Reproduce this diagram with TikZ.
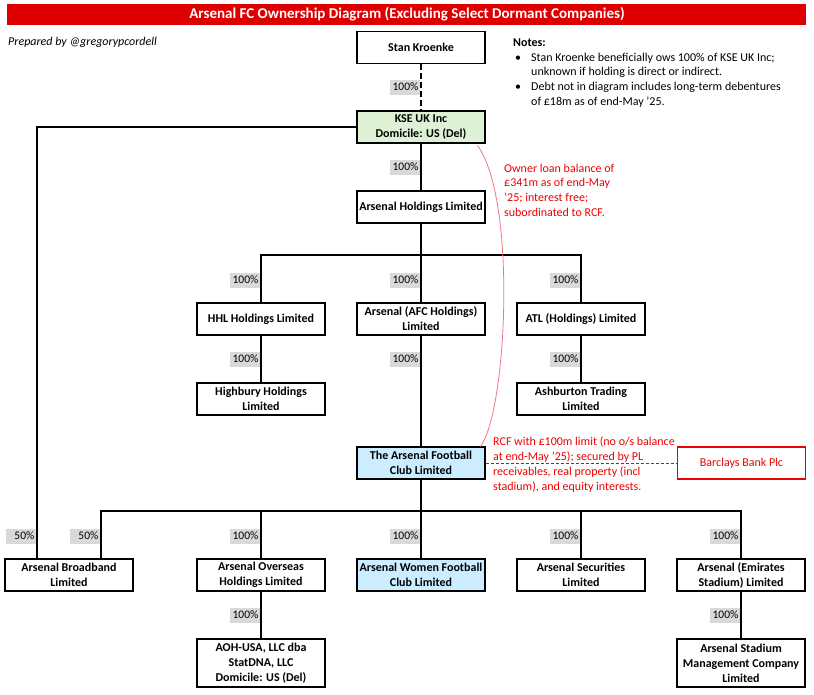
\documentclass[tikz,border=0pt]{standalone}
\usepackage{fontspec}
\setmainfont{Carlito}

\definecolor{titlered}{RGB}{222,0,0}
\definecolor{kgreen}{RGB}{221,241,212}
\definecolor{clubblue}{RGB}{204,236,255}
\definecolor{pctgray}{RGB}{217,217,217}
\definecolor{notered}{RGB}{238,0,0}
\definecolor{loanred}{RGB}{240,120,130}

\tikzset{
  entity/.style={draw, line width=1.1pt, minimum width=128pt, minimum height=32pt,
    inner sep=1pt, align=center, font=\bfseries\fontsize{12}{15}\selectfont},
  tallentity/.style={entity, minimum height=48pt},
  pct/.style={fill=pctgray, anchor=east, text width=27pt, align=right, inner xsep=1.5pt,
    minimum height=15pt, inner ysep=0pt, font=\fontsize{11.5}{13}\selectfont},
  link/.style={line width=1.3pt},
  redtext/.style={text=notered, align=left, inner sep=0pt, anchor=north west,
    font=\fontsize{12}{14.7}\selectfont}
}

\begin{document}
\begin{tikzpicture}[x=1pt,y=-1pt]
  \path[fill=white, use as bounding box] (0,0) rectangle (814,694);
  % Title bar
  \fill[titlered] (7,4) rectangle (806,25);
  \node[text=white, font=\bfseries\fontsize{15}{16}\selectfont] (title) at (407,14.5)
    {Arsenal FC Ownership Diagram (Excluding Select Dormant Companies)};
  \node[anchor=base west, inner sep=0pt, font=\itshape\fontsize{12}{12}\selectfont] (prep) at (8,45)
    {Prepared by @gregorypcordell};

  % Notes
  \node[anchor=north west, align=left, inner sep=0pt, font=\fontsize{12}{14.7}\selectfont] (notes) at (513,38.5)
    {\textbf{Notes:}\\
     \hspace*{2pt}\makebox[16pt][l]{\textbullet}Stan Kroenke beneficially ows 100\% of KSE UK Inc;\\
     \hspace*{18pt}unknown if holding is direct or indirect.\\
     \hspace*{2pt}\makebox[16pt][l]{\textbullet}Debt not in diagram includes long-term debentures\\
     \hspace*{18pt}of £18m as of end-May '25.};

  % Companies
  \node[entity] (sk) at (421,47.5) {Stan Kroenke};
  \node[entity, fill=kgreen] (kse) at (421,127) {KSE UK Inc\\Domicile: US (Del)};
  \node[entity] (ahl) at (421,207) {Arsenal Holdings Limited};
  \node[entity] (hhl) at (261,319) {HHL Holdings Limited};
  \node[entity] (afch) at (421,319) {Arsenal (AFC Holdings)\\Limited};
  \node[entity] (atl) at (581,319) {ATL (Holdings) Limited};
  \node[entity] (hbh) at (261,399) {Highbury Holdings\\Limited};
  \node[entity] (ast) at (581,399) {Ashburton Trading\\Limited};
  \node[entity, fill=clubblue] (tafc) at (421,463) {The Arsenal Football\\Club Limited};
  \node[entity, draw=notered, text=notered, font=\fontsize{12}{15}\selectfont] (bbp) at (741.5,463) {Barclays Bank Plc};
  \node[entity] (abb) at (69,575) {Arsenal Broadband\\Limited};
  \node[entity] (aoh) at (261,575) {Arsenal Overseas\\Holdings Limited};
  \node[entity, fill=clubblue] (awfc) at (421,575) {Arsenal Women Football\\Club Limited};
  \node[entity] (asl) at (581,575) {Arsenal Securities\\Limited};
  \node[entity] (aes) at (741,575) {Arsenal (Emirates\\Stadium) Limited};
  \node[tallentity] (usa) at (261,663) {AOH-USA, LLC dba\\StatDNA, LLC\\Domicile: US (Del)};
  \node[tallentity] (asm) at (741,663) {Arsenal Stadium\\Management Company\\Limited};

  % Junctions
  \coordinate (j1) at (421,255);
  \coordinate (j2) at (421,511);

  % Draw the ownership links
  \draw[line width=2.4pt, dash pattern=on 6pt off 3pt] (sk) -- (kse);
  \draw[link] (kse) -- (ahl);
  \draw[link] (kse.west) -| ([xshift=-32pt]abb.north);
  \draw[link] (ahl) -- (j1) -- (afch);
  \draw[link] (j1) -| (hhl);
  \draw[link] (j1) -| (atl);
  \draw[link] (hhl) -- (hbh);
  \draw[link] (atl) -- (ast);
  \draw[link] (afch) -- (tafc);
  \draw[link] (tafc) -- (j2) -- (awfc);
  \draw[link] (j2) -| ([xshift=32pt]abb.north);
  \draw[link] (j2) -| (aoh);
  \draw[link] (j2) -| (asl);
  \draw[link] (j2) -| (aes);
  \draw[link] (aoh) -- (usa);
  \draw[link] (aes) -- (asm);

  % Holding percentages
  \node[pct] (p1) at (420,87) {100\%};
  \node[pct] (p2) at (420,167) {100\%};
  \node[pct] (p3) at (260,280) {100\%};
  \node[pct] (p4) at (420,280) {100\%};
  \node[pct] (p5) at (580,280) {100\%};
  \node[pct] (p6) at (260,359) {100\%};
  \node[pct] (p7) at (420,359) {100\%};
  \node[pct] (p8) at (580,359) {100\%};
  \node[pct] (p9) at (36,536) {50\%};
  \node[pct] (p10) at (100,536) {50\%};
  \node[pct] (p11) at (260,536) {100\%};
  \node[pct] (p12) at (420,536) {100\%};
  \node[pct] (p13) at (580,536) {100\%};
  \node[pct] (p14) at (740,536) {100\%};
  \node[pct] (p15) at (260,615) {100\%};
  \node[pct] (p16) at (740,615) {100\%};

  % Debt
  \draw[loanred, line width=0.8pt] ([xshift=-8pt,yshift=-2pt]kse.south east)
    .. controls (517,200) and (507,410) .. ([xshift=-5pt]tafc.north east);
  \draw[notered, line width=0.9pt, dash pattern=on 3pt off 2pt] (tafc) -- (bbp);
  \node[redtext] (loan) at (504,163.5) {Owner loan balance of\\£341m as of end-May\\'25; interest free;\\subordinated to RCF.};
  \node[redtext] (rcf) at (493,437) {RCF with £100m limit (no o/s balance\\at end-May '25); secured by PL\\receivables, real property (incl\\stadium), and equity interests.};
\end{tikzpicture}
\end{document}
